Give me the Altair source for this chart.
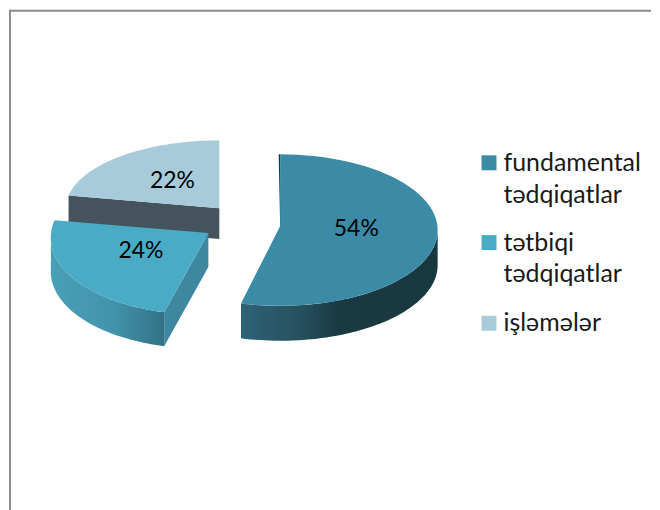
import math
import altair as alt
import pandas as pd

# ---- chart values -------------------------------------------------------
categories = ["fundamental\ntədqiqatlar", "tətbiqi\ntədqiqatlar", "işləmələr"]
shares = [54, 24, 22]
labels = ["54%", "24%", "22%"]

# ---- colours and styles -------------------------------------------------
top_colors = ["#3b8ba6", "#4aabc6", "#a8cbdb"]
wall_colors = ["#1a3a44", "#3d87a1", "#45535c"]
side_stops = [
    [(0, "#2d6376"), (0.3, "#27505f"), (0.5, "#1a3942"), (1, "#183840")],
    [(0, "#4aa0b9"), (0.55, "#4193ac"), (1, "#337286")],
]

# ---- pie geometry (page pixels): centre x, centre y, radii, depth -------
centers_x = [280, 208, 219]
centers_y = [229, 234, 207]
radii_x = [158, 158, 154]
radii_y = [76, 80, 68]
apex_dy = [-4, -2, 0]
shears = [0, -0.065, 0]
depths = [35, 34, 31]
LABEL_K = 0.5
label_dx = [-2, -1, 2]
label_dy = [-6, -5, -1]

legend_x = 489.5
legend_text_x = 504
legend_y = [161.5, 241.5, 322.5]

WIDTH, HEIGHT = 644, 502
X_SCALE = alt.Scale(domain=[8, 8 + WIDTH], nice=False, zero=False)
Y_SCALE = alt.Scale(domain=[8 + HEIGHT, 8], nice=False, zero=False)  # y grows downward on the page
X = alt.X("x:Q", axis=None, scale=X_SCALE)
Y = alt.Y("y:Q", axis=None, scale=Y_SCALE)


def angle_bounds():
    out, acc = [], 0
    for s in shares:
        out.append((acc * 3.6, (acc + s) * 3.6))
        acc += s
    return out


bounds = angle_bounds()


def rim(i, a0, a1, dz=0, n=60):
    pts = []
    for k in range(n + 1):
        a = math.radians(a0 + (a1 - a0) * k / n)
        dy = -radii_y[i] * math.cos(a)
        pts.append((centers_x[i] + radii_x[i] * math.sin(a) + shears[i] * dy,
                    centers_y[i] + dy + dz))
    return pts


def apex(i, dz=0):
    return (centers_x[i], centers_y[i] + apex_dy[i] + dz)


def poly(points, fill):
    df = pd.DataFrame({"x": [p[0] for p in points],
                       "y": [p[1] for p in points],
                       "i": list(range(len(points)))})
    return alt.Chart(df).mark_line(
        interpolate="linear-closed", fill=fill, strokeOpacity=0
    ).encode(x=X, y=Y, order="i:Q")


def grad(stops):
    return alt.Gradient(
        gradient="linear", x1=0, x2=1, y1=0, y2=0,
        stops=[alt.GradientStop(offset=o, color=c) for o, c in stops],
    )


layers = []

# 22 % slice: exposed inner wall, then top
a0, a1 = bounds[2]
p = rim(2, a0, a0, n=1)[0]
layers.append(poly([p, apex(2), apex(2, depths[2]), (p[0], p[1] + depths[2])], wall_colors[2]))
layers.append(poly([apex(2)] + rim(2, a0, a1), top_colors[2]))

# 54 % slice: outer side wall, thin edge wall, top
a0, a1 = bounds[0]
layers.append(poly(rim(0, 90, a1) + rim(0, a1, 90, depths[0]), grad(side_stops[0])))
s = rim(0, a0, a0, n=1)[0]
layers.append(poly([(s[0] - 1.5, s[1]), apex(0), (apex(0)[0] + 1, apex(0)[1]), s], wall_colors[0]))
layers.append(poly([apex(0)] + rim(0, a0, a1), top_colors[0]))

# 24 % slice: radial wall, outer side wall, top
a0, a1 = bounds[1]
e = rim(1, a0, a0, n=1)[0]
layers.append(poly([apex(1), e, (e[0], e[1] + depths[1]), apex(1, depths[1])], wall_colors[1]))
layers.append(poly(rim(1, a0, 270) + rim(1, 270, a0, depths[1]), grad(side_stops[1])))
layers.append(poly([apex(1)] + rim(1, a0, a1), top_colors[1]))

# percentage labels, from each slice's mid angle
label_rows = []
for i, (a0, a1) in enumerate(bounds):
    m = math.radians((a0 + a1) / 2)
    label_rows.append({
        "x": centers_x[i] + LABEL_K * radii_x[i] * math.sin(m) + label_dx[i],
        "y": centers_y[i] - LABEL_K * radii_y[i] * math.cos(m) + label_dy[i],
        "t": labels[i],
    })
layers.append(
    alt.Chart(pd.DataFrame(label_rows)).mark_text(
        font="Lato", fontSize=23, color="#000000", align="center", baseline="middle"
    ).encode(x=X, y=Y, text="t:N")
)

# legend
legend_df = pd.DataFrame({"x": [legend_x] * 3, "tx": [legend_text_x] * 3, "y": legend_y,
                          "t": categories, "c": top_colors})
layers.append(
    alt.Chart(legend_df).mark_square(size=225, opacity=1).encode(
        x=X, y=Y, fill=alt.Fill("c:N", scale=None), stroke=alt.value(None)
    )
)
layers.append(
    alt.Chart(legend_df).mark_text(
        font="Lato", fontSize=25, color="#1a1a1a", align="left", baseline="middle",
        lineBreak="\n", lineHeight=32,
    ).encode(x=alt.X("tx:Q", axis=None, scale=X_SCALE), y=Y, text="t:N")
)

# chart frame
frame_color = "#8c8c8c"
layers.append(alt.Chart(pd.DataFrame({"a": [0]})).mark_rule(color=frame_color, strokeWidth=2).encode(
    x=alt.value(1), y=alt.value(0), y2=alt.value(HEIGHT)))
layers.append(alt.Chart(pd.DataFrame({"a": [0]})).mark_rule(color=frame_color, strokeWidth=2).encode(
    x=alt.value(0), x2=alt.value(WIDTH), y=alt.value(1)))

chart = alt.layer(*layers).properties(width=WIDTH, height=HEIGHT, padding=0, background="white").configure_view(stroke=None)

chart.save("out.html", embed_options={"renderer": "svg", "actions": False})
